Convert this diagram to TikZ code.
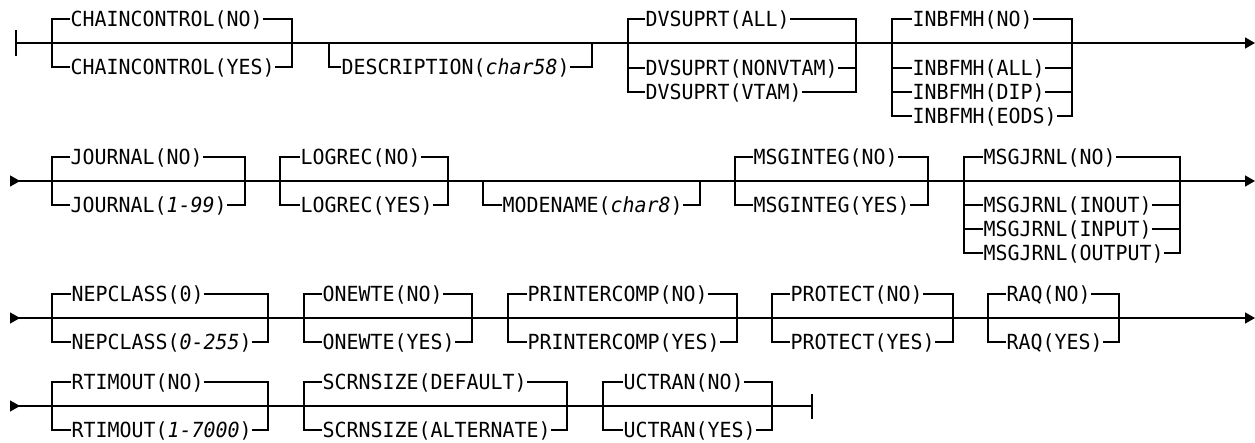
\documentclass[tikz,border=0pt]{standalone}
\usepackage{fontspec}
\newfontfamily\monofam{DejaVu Sans Mono}[ItalicFont={DejaVu Sans Mono Oblique},FakeStretch=0.958]
\usetikzlibrary{arrows.meta}
\tikzset{
  rail/.style={line width=1.3pt},
  lbl/.style={anchor=west, inner xsep=0.5pt, inner ysep=0pt, text height=15.2pt, text depth=0pt,
              font=\monofam\fontsize{20.8}{21}\selectfont},
  endtip/.style={-{Triangle[length=10pt,width=11pt]}},
  bothtip/.style={{Triangle[reversed,length=10pt,width=11pt]}-{Triangle[length=10pt,width=11pt]}},
}
% id, left bracket x, text x, right bracket x, branch y, main y, text
\newcommand\rrbranch[7]{%
  \node[lbl] (#1) at (#3,#5) {#7};
  \coordinate (#1-l) at (#2,#6);
  \coordinate (#1-r) at (#4,#6);
  \draw[rail] (#1-l) |- (#1.west);
  \draw[rail] (#1.east) -| (#1-r);
}
\begin{document}
\begin{tikzpicture}[x=1pt,y=-1pt]
\useasboundingbox (0,0) rectangle (1255,443);

% ---------- row 1 ----------
\coordinate (s1) at (16,43);
\coordinate (s1t) at (16,30);
\coordinate (s1b) at (16,56);
\coordinate (e1) at (1255,43);
\draw[rail] (s1t) -- (s1b);
\draw[rail,endtip] (s1) -- (e1);
\rrbranch{cc1}{52}{70}{292}{19}{43}{CHAINCONTROL(NO)}
\rrbranch{cc2}{52}{70}{292}{67}{43}{CHAINCONTROL(YES)}
\rrbranch{de}{329}{341}{592}{67}{43}{DESCRIPTION(\textit{char58})}
\rrbranch{dv1}{628}{645}{856}{19}{43}{DVSUPRT(ALL)}
\rrbranch{dv2}{628}{645}{856}{68}{43}{DVSUPRT(NONVTAM)}
\rrbranch{dv3}{628}{645}{856}{92}{43}{DVSUPRT(VTAM)}
\rrbranch{ib1}{892}{912}{1072}{19}{43}{INBFMH(NO)}
\rrbranch{ib2}{892}{912}{1072}{68}{43}{INBFMH(ALL)}
\rrbranch{ib3}{892}{912}{1072}{92}{43}{INBFMH(DIP)}
\rrbranch{ib4}{892}{912}{1072}{116}{43}{INBFMH(EODS)}

% ---------- row 2 ----------
\coordinate (s2) at (10,181);
\coordinate (e2) at (1255,181);
\draw[rail,bothtip] (s2) -- (e2);
\rrbranch{jo1}{52}{70}{245}{157}{181}{JOURNAL(NO)}
\rrbranch{jo2}{52}{70}{245}{205}{181}{JOURNAL(\textit{1-99})}
\rrbranch{lo1}{280}{300}{448}{157}{181}{LOGREC(NO)}
\rrbranch{lo2}{280}{300}{448}{205}{181}{LOGREC(YES)}
\rrbranch{mo}{483}{502}{700}{205}{181}{MODENAME(\textit{char8})}
\rrbranch{mi1}{735}{753}{928}{157}{181}{MSGINTEG(NO)}
\rrbranch{mi2}{735}{753}{928}{205}{181}{MSGINTEG(YES)}
\rrbranch{mj1}{964}{983}{1180}{157}{181}{MSGJRNL(NO)}
\rrbranch{mj2}{964}{983}{1180}{205}{181}{MSGJRNL(INOUT)}
\rrbranch{mj3}{964}{983}{1180}{229}{181}{MSGJRNL(INPUT)}
\rrbranch{mj4}{964}{983}{1180}{253}{181}{MSGJRNL(OUTPUT)}

% ---------- row 3 ----------
\coordinate (s3) at (10,318);
\coordinate (e3) at (1255,318);
\draw[rail,bothtip] (s3) -- (e3);
\rrbranch{ne1}{52}{71}{268}{294}{318}{NEPCLASS(0)}
\rrbranch{ne2}{52}{71}{268}{342}{318}{NEPCLASS(\textit{0-255})}
\rrbranch{on1}{304}{322}{472}{294}{318}{ONEWTE(NO)}
\rrbranch{on2}{304}{322}{472}{342}{318}{ONEWTE(YES)}
\rrbranch{pc1}{508}{527}{737}{294}{318}{PRINTERCOMP(NO)}
\rrbranch{pc2}{508}{527}{737}{342}{318}{PRINTERCOMP(YES)}
\rrbranch{pr1}{772}{790}{953}{294}{318}{PROTECT(NO)}
\rrbranch{pr2}{772}{790}{953}{342}{318}{PROTECT(YES)}
\rrbranch{ra1}{988}{1006}{1119}{294}{318}{RAQ(NO)}
\rrbranch{ra2}{988}{1006}{1119}{342}{318}{RAQ(YES)}

% ---------- row 4 ----------
\coordinate (s4) at (10,406);
\coordinate (e4) at (812,406);
\coordinate (e4t) at (812,394);
\coordinate (e4b) at (812,419);
\draw[rail,{Triangle[reversed,length=10pt,width=11pt]}-] (s4) -- (e4);
\draw[rail] (e4t) -- (e4b);
\rrbranch{rt1}{52}{71}{268}{382}{406}{RTIMOUT(NO)}
\rrbranch{rt2}{52}{71}{268}{430}{406}{RTIMOUT(\textit{1-7000})}
\rrbranch{sc1}{304}{322}{567}{382}{406}{SCRNSIZE(DEFAULT)}
\rrbranch{sc2}{304}{322}{567}{430}{406}{SCRNSIZE(ALTERNATE)}
\rrbranch{uc1}{603}{623}{772}{382}{406}{UCTRAN(NO)}
\rrbranch{uc2}{603}{623}{772}{430}{406}{UCTRAN(YES)}
\end{tikzpicture}
\end{document}
